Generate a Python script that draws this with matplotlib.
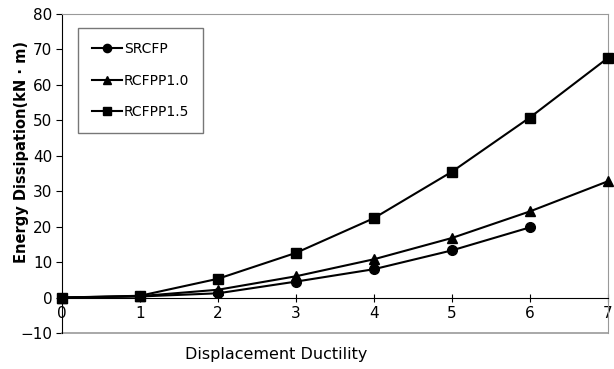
import matplotlib
matplotlib.use("Agg")
import matplotlib.pyplot as plt

plt.rcParams['font.family'] = ['Liberation Sans Narrow', 'DejaVu Sans Condensed', 'DejaVu Sans']

ductility = [0, 1, 2, 3, 4, 5, 6, 7]
srcfp = [0, 0.3, 1.2, 4.5, 8.0, 13.3, 19.8]
rcfpp10 = [0, 0.4, 2.2, 6.0, 10.8, 16.8, 24.3, 32.8]
rcfpp15 = [0, 0.5, 5.3, 12.6, 22.4, 35.5, 50.8, 67.6]
y_ticks = [-10, 0, 10, 20, 30, 40, 50, 60, 70, 80]

fig = plt.figure(figsize=(6.14, 3.69), dpi=100)
ax = fig.add_axes([0.101, 0.0976, 0.889, 0.8644])

ax.plot(ductility[:len(srcfp)], srcfp, color='black', lw=1.5, marker='o', ms=7, label='SRCFP', clip_on=False, zorder=3)
ax.plot(ductility, rcfpp10, color='black', lw=1.5, marker='^', ms=7, label='RCFPP1.0', clip_on=False, zorder=3)
ax.plot(ductility, rcfpp15, color='black', lw=1.5, marker='s', ms=7, label='RCFPP1.5', clip_on=False, zorder=3)

ax.set_xlim(0, 7)
ax.set_ylim(-10, 80)
ax.set_xticks(ductility)
ax.set_yticks(y_ticks)

# x axis crosses at zero, grey frame around plot area
ax.spines['bottom'].set_position(('data', 0))
ax.spines['bottom'].set_color('black')
ax.spines['left'].set_color('black')
for s in ['top', 'right']:
    ax.spines[s].set_color('#999999')
ax.axhline(-10, color='#999999', lw=1.2, clip_on=False)

ax.tick_params(axis='x', direction='inout', length=6, labelsize=11, pad=3)
ax.tick_params(axis='y', direction='out', length=4, labelsize=11, pad=3)

fig.text(276 / 614, 1 - 355 / 369, 'Displacement Ductility', fontsize=11.5,
         ha='center', va='center')
fig.text(22 / 614, 1 - 152 / 369, 'Energy Dissipation(kN · m)', fontsize=10.5,
         fontweight='bold', rotation=90, ha='center', va='center')

leg = ax.legend(loc='upper left', bbox_to_anchor=(0.029, 0.955), fontsize=10,
                frameon=True, fancybox=False, edgecolor='#555555',
                handlelength=2.2, handletextpad=0.1, labelspacing=1.25,
                borderpad=1.0, borderaxespad=0, markerscale=0.85)
leg.get_frame().set_linewidth(1.0)

fig.savefig('out.png', dpi=100)
